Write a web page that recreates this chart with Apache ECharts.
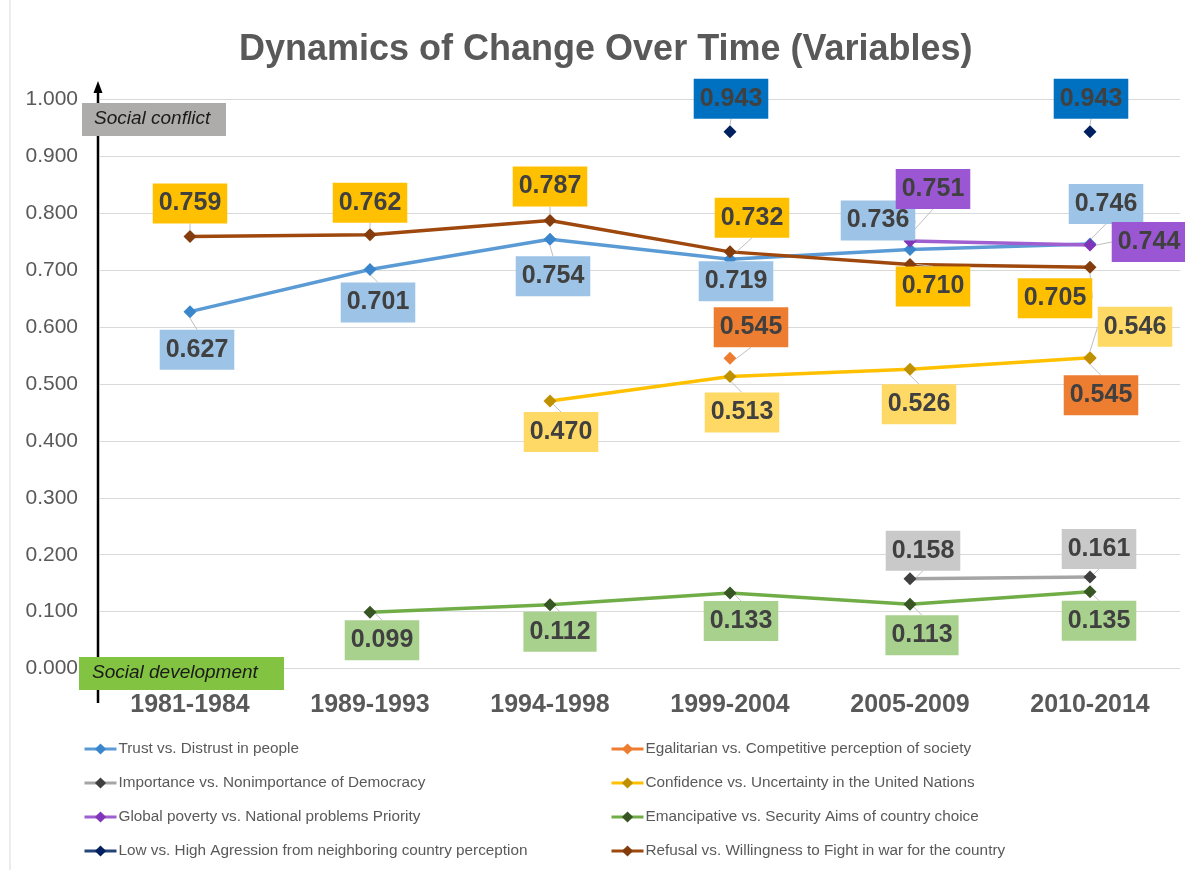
<!DOCTYPE html>
<html>
<head>
<meta charset="utf-8">
<script src="https://cdn.jsdelivr.net/npm/echarts@6/dist/echarts.min.js"></script>
<style>
  html, body { margin: 0; padding: 0; background: #fff; }
  #main { width: 1185px; height: 870px; }
</style>
</head>
<body>
<div id="main"></div>
<script>
// data
const categories = ['1981-1984', '1989-1993', '1994-1998', '1999-2004', '2005-2009', '2010-2014'];
const yTicks = { min: 0, max: 1, interval: 0.1 };

const trust        = [0.627, 0.701, 0.754, 0.719, 0.736, 0.746];
const egalitarian  = [null, null, null, 0.545, null, 0.545];
const democracy    = [null, null, null, null, 0.158, 0.161];
const confidenceUN = [null, null, 0.470, 0.513, 0.526, 0.546];
const poverty      = [null, null, null, null, 0.751, 0.744];
const emancipative = [null, 0.099, 0.112, 0.133, 0.113, 0.135];
const aggression   = [null, null, null, 0.943, null, 0.943];
const refusal      = [0.759, 0.762, 0.787, 0.732, 0.710, 0.705];

const names = [
  'Trust vs. Distrust in people',
  'Egalitarian vs. Competitive perception of society',
  'Importance vs. Nonimportance of Democracy',
  'Confidence vs. Uncertainty in the United Nations',
  'Global poverty vs. National problems Priority',
  'Emancipative vs. Security Aims of country choice',
  'Low vs. High Agression from neighboring country perception',
  'Refusal vs. Willingness to Fight in war for the country'
];

// label offsets (dx, dy from the marker), styling only
const labelShift = [
  [[7, 38], [8, 33], [3, 37], [6, 22], [-32, -29], [16, -40]],
  [null, null, null, [21, -31], null, [11, 37]],
  [null, null, null, null, [13, -28], [9, -28]],
  [null, null, [11, 31], [12, 36], [9, 35], [45, -31]],
  [null, null, null, null, [23, -52], [59, -3]],
  [null, [12, 28], [10, 27], [11, 28], [12, 31], [9, 29]],
  [null, null, null, [1, -33], null, [1, -33]],
  [[0, -33], [0, -32], [0, -34], [22, -34], [23, 22], [-35, 31]]
];

const styles = [
  { line: '#5B9BD5', mark: '#3A86CC', box: '#9DC3E6' },
  { line: '#ED7D31', mark: '#ED7D31', box: '#ED7D31' },
  { line: '#A5A5A5', mark: '#3F3F3F', box: '#C9C9C9' },
  { line: '#FFC000', mark: '#BF9000', box: '#FFD966' },
  { line: '#A05FD0', mark: '#8035B8', box: '#9B57D3' },
  { line: '#70AD47', mark: '#375623', box: '#A9D18E' },
  { line: '#264478', mark: '#002060', box: '#0070C0' },
  { line: '#9E480E', mark: '#843C0C', box: '#FFC000' }
];

const seriesData = [trust, egalitarian, democracy, confidenceUN, poverty, emancipative, aggression, refusal];

const series = seriesData.map((d, i) => ({
  name: names[i],
  type: 'line',
  data: d,
  symbol: 'diamond',
  symbolSize: 13,
  lineStyle: { color: styles[i].line, width: 3.5 },
  itemStyle: { color: styles[i].mark },
  color: styles[i].mark,
  label: {
    show: true,
    position: 'inside',
    formatter: p => p.value.toFixed(3),
    fontFamily: 'Liberation Sans',
    fontWeight: 'bold',
    fontSize: 25,
    lineHeight: 28,
    color: '#404040',
    backgroundColor: styles[i].box,
    padding: [6, 6]
  },
  labelLine: { show: true, lineStyle: { color: '#BFBFBF', width: 1 } },
  labelLayout: p => {
    const s = labelShift[i][p.dataIndex] || [0, -30];
    return { dx: s[0], dy: s[1] };
  },
  emphasis: { disabled: true },
  animation: false
}));

const legendBase = {
  orient: 'vertical', top: 741, padding: 0,
  itemWidth: 32, itemHeight: 14, itemGap: 18,
  lineStyle: { width: 3 },
  textStyle: { fontFamily: 'Liberation Sans', fontSize: 15.3, color: '#595959', lineHeight: 16, padding: [0, 0, 0, -3] }
};

const chart = echarts.init(document.getElementById('main'));

chart.setOption({
  backgroundColor: '#fff',
  title: {
    text: 'Dynamics of Change Over Time (Variables)',
    left: 234,
    top: 27,
    textStyle: { fontFamily: 'Liberation Sans', fontWeight: 'bold', fontSize: 36, color: '#595959' }
  },
  grid: { left: 100, right: 5, top: 99.3, bottom: 201.4 },
  xAxis: {
    type: 'category',
    data: categories,
    boundaryGap: true,
    axisLine: { show: false },
    axisTick: { show: false },
    axisLabel: { margin: 24, fontFamily: 'Liberation Sans', fontWeight: 'bold', fontSize: 25, color: '#595959' }
  },
  yAxis: {
    type: 'value',
    min: yTicks.min,
    max: yTicks.max,
    interval: yTicks.interval,
    axisLine: { show: false },
    axisTick: { show: false },
    splitLine: { lineStyle: { color: '#D9D9D9', width: 1 } },
    axisLabel: { margin: 22, fontFamily: 'Liberation Sans', fontSize: 21, color: '#595959',
      formatter: v => v.toFixed(3) }
  },
  legend: [
    Object.assign({ data: [names[0], names[2], names[4], names[6]], left: 83 }, legendBase),
    Object.assign({ data: [names[1], names[3], names[5], names[7]], left: 610 }, legendBase)
  ],
  graphic: [
    { type: 'line', shape: { x1: 10, y1: 0, x2: 10, y2: 870 }, style: { stroke: '#D9D9D9', lineWidth: 1 } },
    { type: 'line', z: 10, shape: { x1: 98, y1: 90, x2: 98, y2: 703 }, style: { stroke: '#000', lineWidth: 2.5 } },
    { type: 'polygon', z: 10, shape: { points: [[93.5, 93], [102.5, 93], [98, 81]] }, style: { fill: '#000' } },
    { type: 'rect', z: 11, shape: { x: 82, y: 103, width: 144, height: 33 }, style: { fill: '#AEABAB' } },
    { type: 'text', z: 12, left: 94, top: 109,
      style: { text: 'Social conflict', font: 'italic 19px "Liberation Sans"', fill: '#1A1A1A' } },
    { type: 'rect', z: 11, shape: { x: 79, y: 657, width: 205, height: 33 }, style: { fill: '#82C341' } },
    { type: 'text', z: 12, left: 92, top: 663,
      style: { text: 'Social development', font: 'italic 19px "Liberation Sans"', fill: '#1A1A1A' } }
  ],
  series: series
});
</script>
</body>
</html>
